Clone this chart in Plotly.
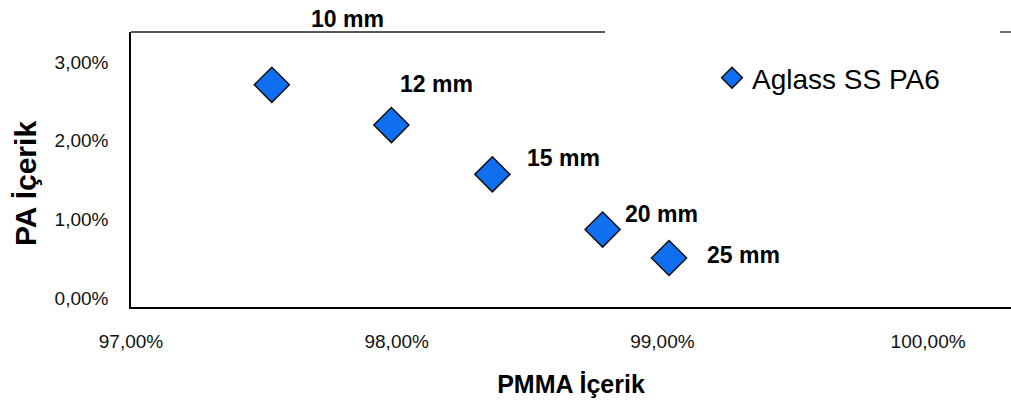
import plotly.graph_objects as go

# Data (percent units)
labels = ["10 mm", "12 mm", "15 mm", "20 mm", "25 mm"]
pmma = [97.53, 97.98, 98.36, 98.775, 99.025]
pa = [2.71, 2.20, 1.575, 0.875, 0.515]
series_name = "Aglass SS PA6"

x_tickvals = [97, 98, 99, 100]
x_ticktext = ["97,00%", "98,00%", "99,00%", "100,00%"]
y_tickvals = [0, 1, 2, 3]
y_ticktext = ["0,00%", "1,00%", "2,00%", "3,00%"]

# label pixel offsets (styling)
label_dx = [76, 45, 71, 59, 74]
label_dy = [66, 41, 16, 16, 3]

FONT = "Liberation Sans, Arial, sans-serif"

fig = go.Figure()
fig.add_trace(go.Scatter(
    x=pmma, y=pa, mode="markers", name=series_name,
    marker=dict(symbol="diamond", size=27, color="#106FF0",
                line=dict(color="#111111", width=1.5)),
    showlegend=True,
))

for lab, xv, yv, dx, dy in zip(labels, pmma, pa, label_dx, label_dy):
    fig.add_annotation(x=xv, y=yv, text=f"<b>{lab}</b>", showarrow=False,
                       xshift=dx, yshift=dy,
                       font=dict(family=FONT, size=23, color="#000000"))

W, H = 1011, 403
L, R, T, B = 131, 0, 32, 96
plot_w = W - L - R
plot_h = H - T - B

# y-axis title as rotated annotation
fig.add_annotation(xref="paper", yref="paper",
                   x=(25 - L) / plot_w, y=(H - B - 184) / plot_h,
                   text="<b>PA İçerik</b>", textangle=-90, showarrow=False,
                   xanchor="center", yanchor="middle",
                   font=dict(family=FONT, size=30, color="#000000"))

# top frame segments (partially hidden in the original)
fig.add_shape(type="line", xref="paper", yref="paper",
              x0=0, x1=(605 - L) / plot_w, y0=1, y1=1,
              line=dict(color="#222222", width=1.3))
fig.add_shape(type="line", xref="paper", yref="paper",
              x0=(1000 - L) / plot_w, x1=1, y0=1, y1=1,
              line=dict(color="#222222", width=1.3))

fig.update_layout(
    width=W, height=H,
    margin=dict(l=L, r=R, t=T, b=B, autoexpand=False),
    paper_bgcolor="white", plot_bgcolor="white",
    font=dict(family=FONT, color="#000000"),
    showlegend=True,
    legend=dict(x=(712 - L) / plot_w, xanchor="left",
                y=(H - B - 78) / plot_h, yanchor="middle",
                bgcolor="rgba(0,0,0,0)",
                font=dict(family=FONT, size=28, color="#000000")),
    xaxis=dict(range=[97, 97 + plot_w / 265.7],
               tickvals=x_tickvals, ticktext=x_ticktext,
               tickfont=dict(family=FONT, size=19, color="#111111"),
               showgrid=False, zeroline=False,
               showline=True, linecolor="#000000", linewidth=2,
               ticks="", ticklabelstandoff=16, automargin=False,
               title=dict(text="<b>PMMA İçerik</b>",
                          font=dict(family=FONT, size=25, color="#000000"),
                          standoff=25)),
    yaxis=dict(range=[-0.106, 3.379],
               tickvals=y_tickvals, ticktext=y_ticktext,
               tickfont=dict(family=FONT, size=19, color="#111111"),
               showgrid=False, zeroline=False,
               showline=True, linecolor="#000000", linewidth=1.5,
               ticks="", ticklabelstandoff=17, automargin=False),
)

fig.write_html("out.html", config={"displayModeBar": False},
               post_script="document.body.style.margin='0';document.body.style.overflow='hidden';")
